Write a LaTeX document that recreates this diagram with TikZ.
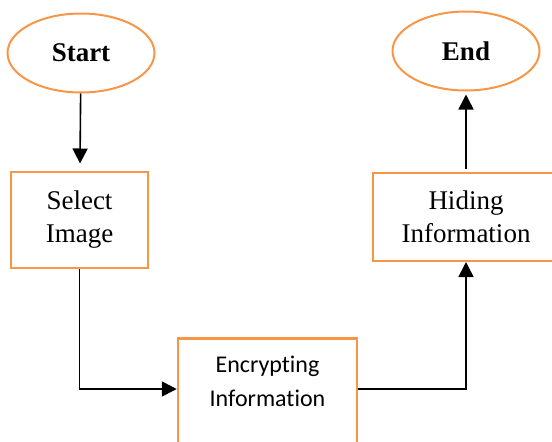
\documentclass[tikz,border=0pt]{standalone}
\usepackage{fontspec}
\setmainfont{Liberation Serif}
\newfontfamily\carlito[Ligatures=NoCommon]{Carlito}
\usepackage{xcolor}
\definecolor{orangeline}{HTML}{F79646}
\usetikzlibrary{shapes.geometric,positioning,arrows.meta}

\begin{document}
\begin{tikzpicture}[x=1pt, y=1pt,
    terminal/.style={
        ellipse, draw = orangeline, line width = 2pt, minimum width = 147pt,
        minimum height = 79pt, font = \fontsize{27}{32}\selectfont\bfseries},
    process/.style={
        rectangle, draw = orangeline, line width = 2.5pt, align = center,
        font = \fontsize{27}{33}\selectfont},
    flow/.style={-{Triangle[length=15pt,width=15pt]}, line width = 1.6pt}]
    \useasboundingbox (0,0) rectangle (552,-442);
    \clip (0,0) rectangle (552,-442);
    \node (start) [terminal] at (81,-53) {Start};
    \node (stop) [terminal] at (466,-51) {End};
    \node (select) [process, minimum width = 137pt, minimum height = 96pt, below=77pt of start, xshift=-1.5pt] {Select\\Image};
    \node (hiding) [process, minimum width = 186pt, minimum height = 88pt, below=80pt of stop] {Hiding\\Information};
    \node (encrypt) [process, minimum width = 179pt, minimum height = 150pt, anchor=north,
        label={[name=enctext, align=center, anchor=center, yshift=-44pt,
            font=\carlito\fontsize{24}{34}\selectfont]north:Encrypting\\Information}]
        at (267.5,-337) {};
    \coordinate (encin) at ([yshift=-52pt]encrypt.north west);
    \coordinate (encout) at ([yshift=-52pt]encrypt.north east);
    \draw[flow, shorten >=7pt] (start) -- (select);
    \draw[flow] (select.south) |- (encin);
    \draw[flow] (encout) -| (hiding.south);
    \draw[flow, shorten <=3pt, shorten >=3pt] (hiding) -- (stop);
\end{tikzpicture}
\end{document}
